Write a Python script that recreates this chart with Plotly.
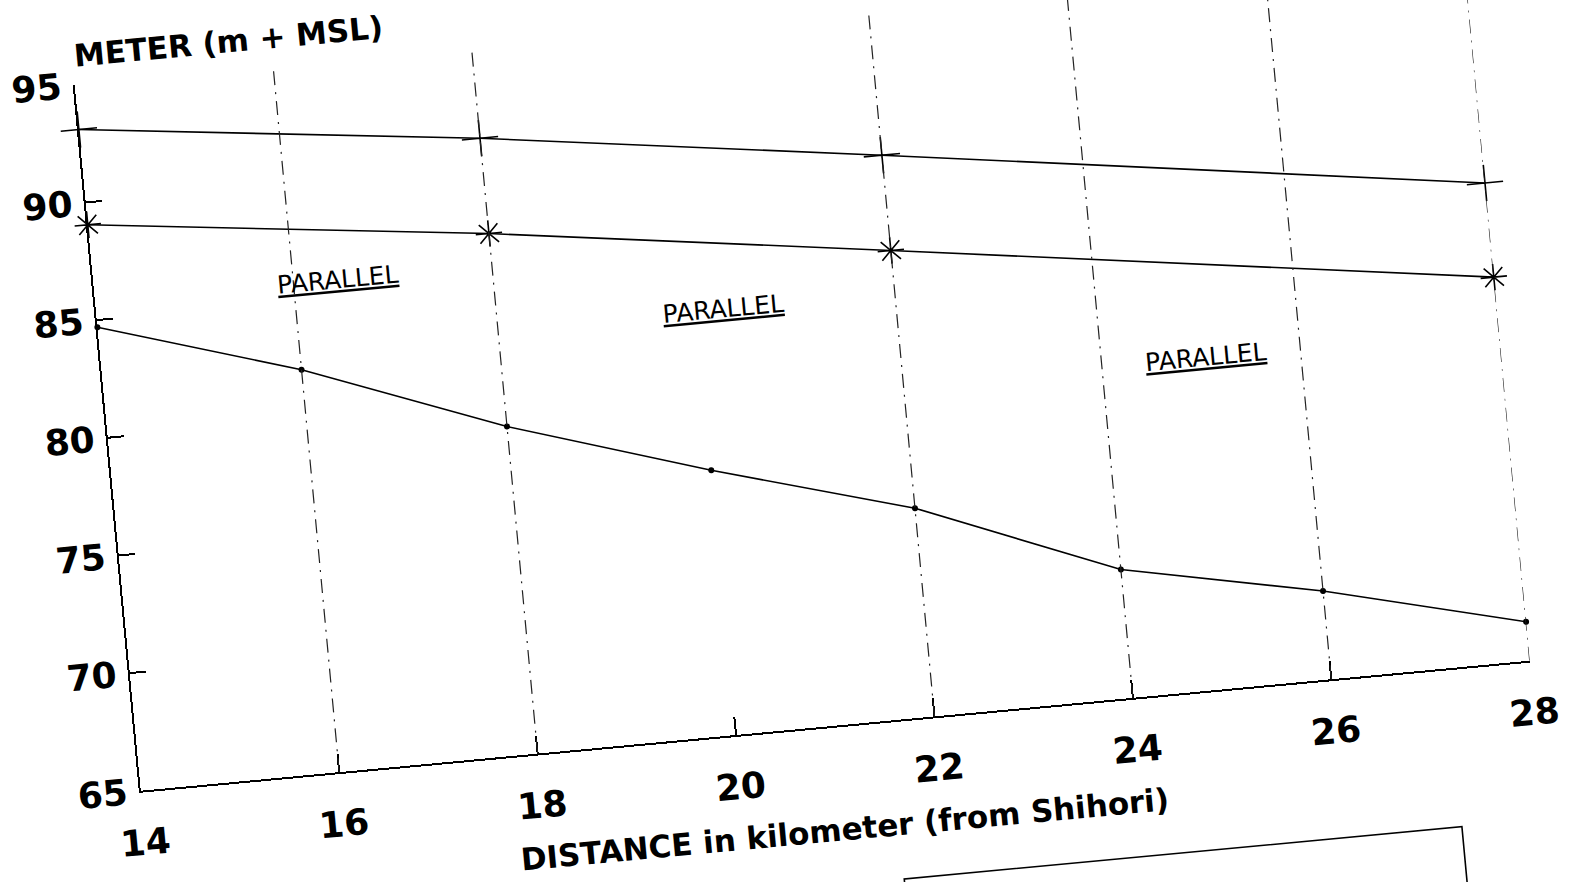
import plotly.graph_objects as go

# ---- data (chart frame) ----
km_bed = [14, 16, 18, 20, 22, 24, 26, 28]
bed_level = [84.7, 82.1, 78.9, 76.25, 73.85, 70.45, 68.75, 66.65]

km_sec = [14, 18, 22, 28]
top_level = [93.1, 91.15, 88.85, 85.3]
flood_level = [89.05, 87.1, 84.8, 81.3]

section_km = [16, 18, 22, 24, 26, 28]

parallel_x = [16.45, 20.27, 25.05]
parallel_y = [85.75, 83.0, 79.05]
parallel_text = ["PARALLEL", "PARALLEL", "PARALLEL"]

x_ticks = [14, 16, 18, 20, 22, 24, 26, 28]
y_ticks = [65, 70, 75, 80, 85, 90, 95]

TITLE_FONT = dict(family="DejaVu Sans", size=31, color="black", weight="bold")
TICK_FONT = dict(family="DejaVu Sans", size=36, color="black", weight="bold")

fig = go.Figure()

fig.add_trace(go.Scatter(
    x=km_sec, y=top_level, mode="lines+markers",
    line=dict(color="black", width=1.6),
    marker=dict(symbol="cross-thin-open", size=26, line=dict(color="black", width=1.6)),
    cliponaxis=False, showlegend=False))

fig.add_trace(go.Scatter(
    x=km_sec, y=flood_level, mode="lines+markers",
    line=dict(color="black", width=1.6),
    marker=dict(symbol="asterisk-open", size=22, line=dict(color="black", width=1.6)),
    cliponaxis=False, showlegend=False))

fig.add_trace(go.Scatter(
    x=km_bed, y=bed_level, mode="lines+markers",
    line=dict(color="black", width=1.6),
    marker=dict(symbol="circle", size=6, color="black"),
    cliponaxis=False, showlegend=False))

for xs in section_km:
    fig.add_vline(x=xs, line=dict(color="#222", width=1.2, dash="14px,7px,2px,7px"))

for xt, yt, tt in zip(parallel_x, parallel_y, parallel_text):
    fig.add_annotation(x=xt, y=yt, xref="x", yref="y", text="<u>" + tt + "</u>",
                       showarrow=False,
                       font=dict(family="DejaVu Sans", size=25, color="black"))

fig.add_annotation(x=0, y=1.041, xref="paper", yref="paper", xanchor="left",
                   yanchor="middle", text="METER (m + MSL)", showarrow=False,
                   font=TITLE_FONT)
fig.add_annotation(x=0.5, y=-0.146, xref="paper", yref="paper", xanchor="center",
                   yanchor="middle", text="DISTANCE in kilometer (from Shihori)",
                   showarrow=False, font=TITLE_FONT)

# frame of the key box that is cut off at the bottom edge of the scan
fig.add_shape(type="rect", xref="paper", yref="paper",
              x0=0.539, x1=0.9405, y0=-0.2243, y1=-0.46,
              line=dict(color="black", width=1.6), fillcolor="rgba(0,0,0,0)")

fig.update_xaxes(range=[14, 28], tickvals=x_ticks, ticktext=[str(v) for v in x_ticks],
                 ticks="inside", ticklen=18, tickwidth=2, tickcolor="black",
                 showline=True, linewidth=2, linecolor="black", mirror=False,
                 showgrid=False, zeroline=False, tickfont=TICK_FONT,
                 ticklabelstandoff=19)
fig.update_yaxes(range=[65, 95], tickvals=y_ticks, ticktext=[str(v) for v in y_ticks],
                 ticks="inside", ticklen=16, tickwidth=2, tickcolor="black",
                 showline=True, linewidth=2, linecolor="black", mirror=False,
                 showgrid=False, zeroline=False, tickfont=TICK_FONT,
                 ticklabelstandoff=4)

fig.update_layout(
    width=1693, height=1142,
    margin=dict(l=171, r=127, t=80, b=353, autoexpand=False),
    paper_bgcolor="white", plot_bgcolor="white",
    showlegend=False,
)

post = """
var gd = document.getElementById('{plot_id}');
document.documentElement.style.overflow = 'hidden';
document.body.style.margin = '0';
document.body.style.overflow = 'hidden';
gd.style.position = 'absolute';
gd.style.left = '-60px';
gd.style.top = '-60px';
gd.style.transformOrigin = '846.5px 501px';
gd.style.transform = 'rotate(-5.35deg)';
"""

fig.write_html("out.html", config={"displayModeBar": False}, post_script=post)
